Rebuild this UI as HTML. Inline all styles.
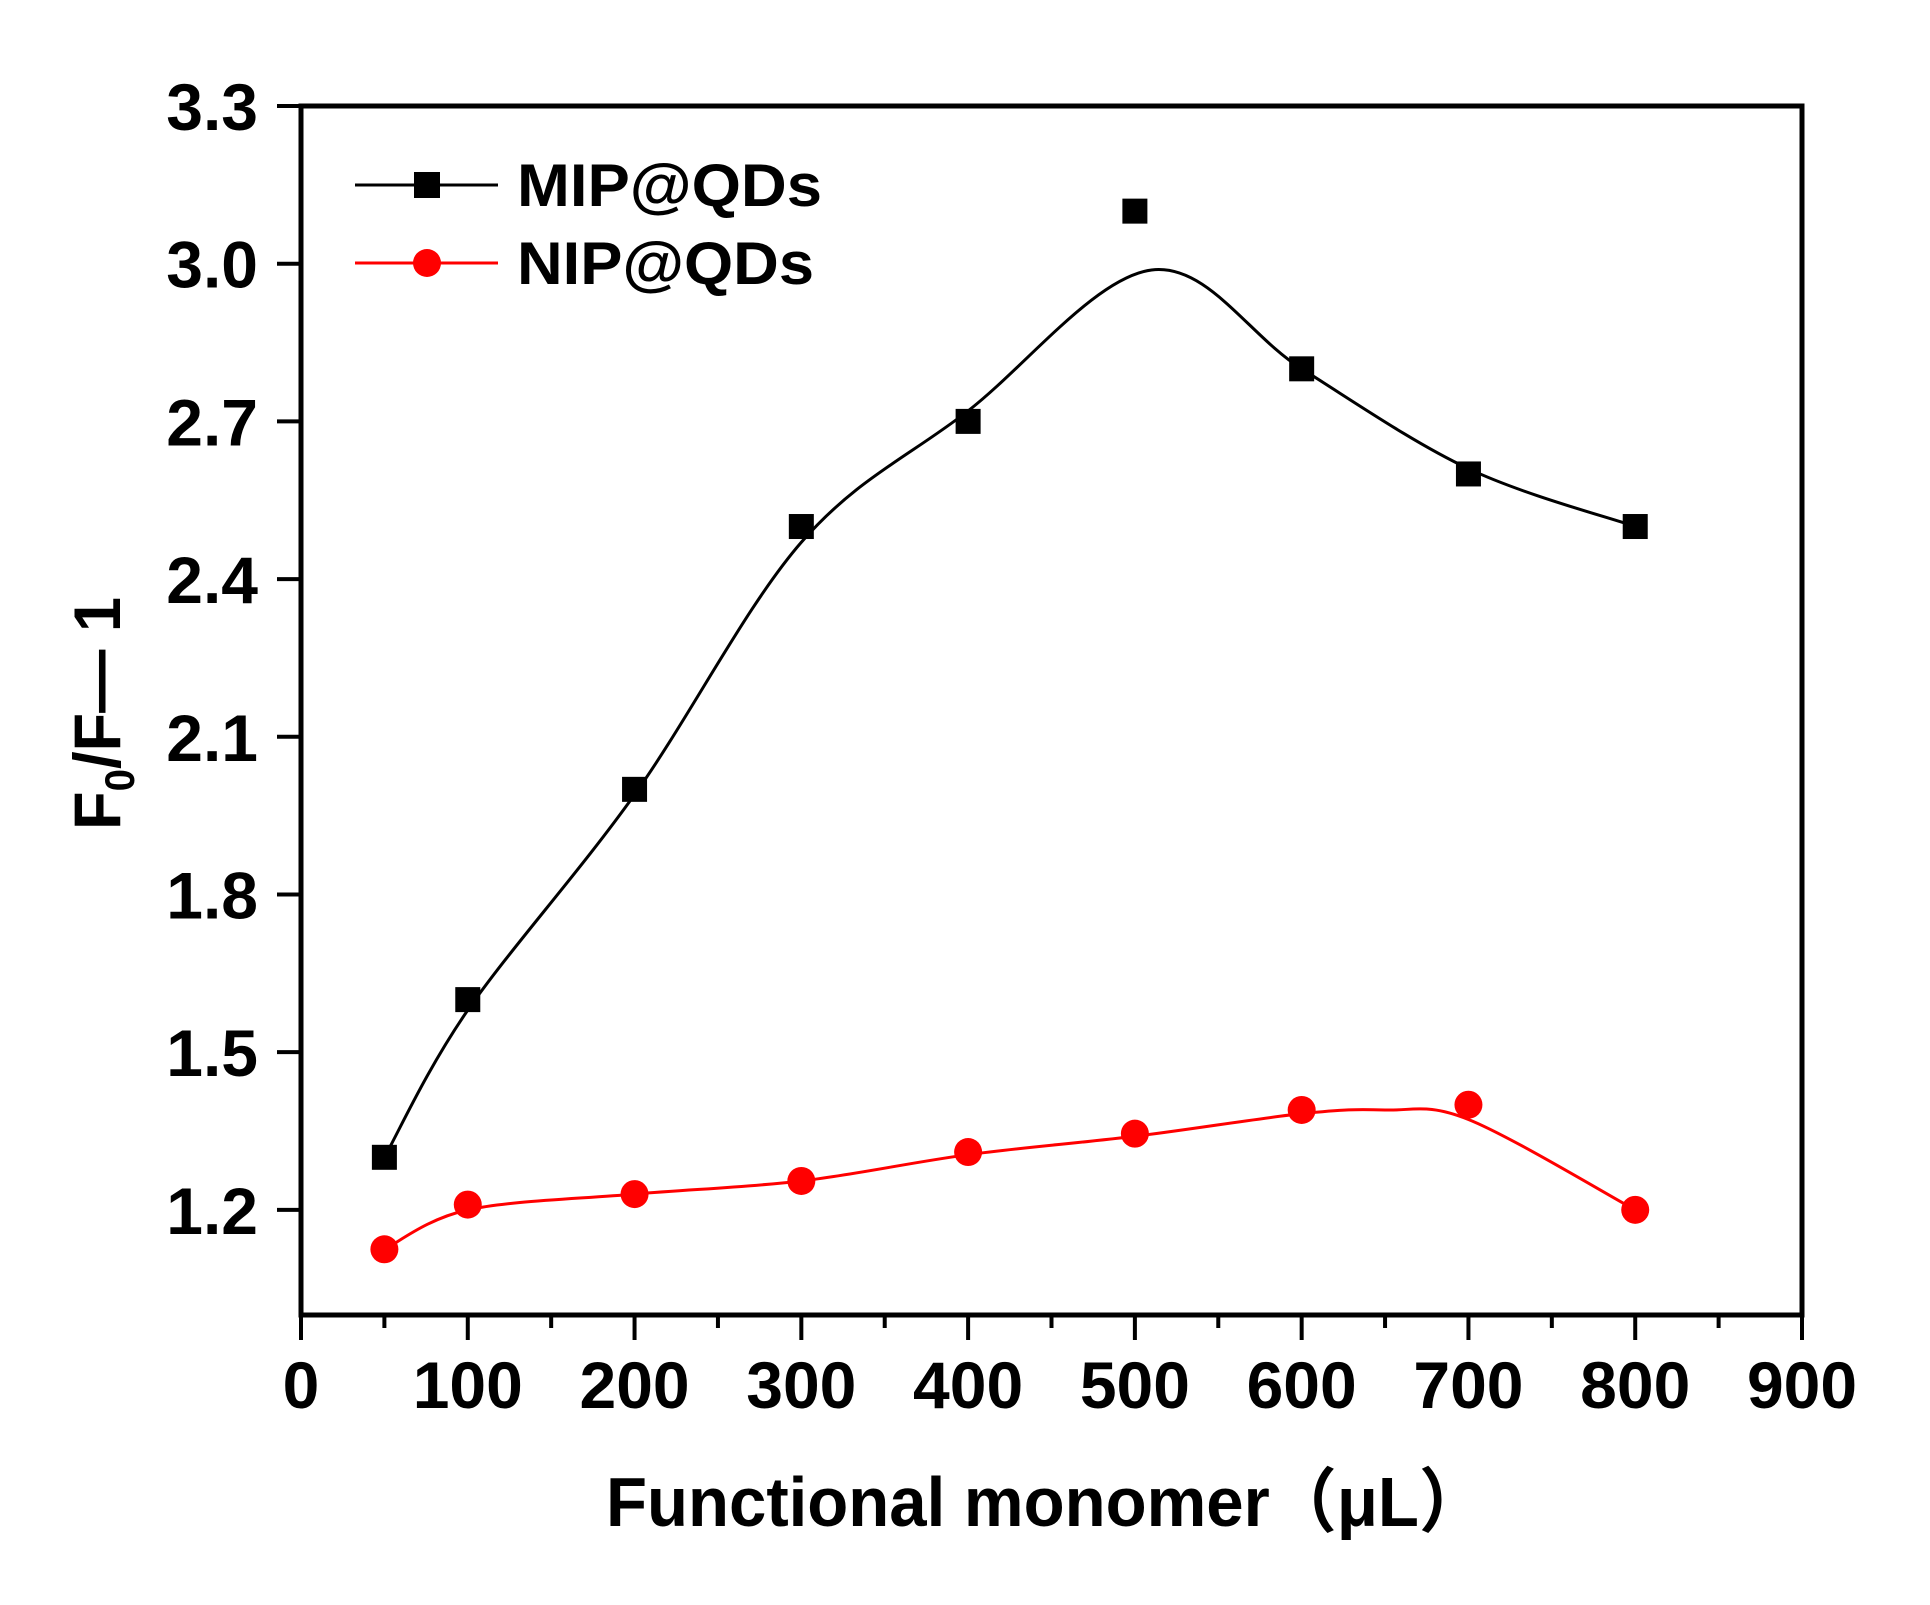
<!DOCTYPE html>
<html><head><meta charset="utf-8"><style>
html,body{margin:0;padding:0;background:#fff;}
svg{display:block;}
text{font-family:"Liberation Sans",Arial,sans-serif;font-weight:bold;fill:#000;}
</style></head><body>
<svg id="chart" width="1930" height="1605" xmlns="http://www.w3.org/2000/svg">
<g id="plot"></g>
</svg>
<script>
const xCategories = [50,100,200,300,400,500,600,700,800];
const mipValues = [1.30,1.60,2.00,2.50,2.70,3.10,2.80,2.60,2.50];
const nipValues = [1.125,1.21,1.23,1.255,1.31,1.345,1.39,1.40,1.20];
const mipFitX = [50,100,200,300,400,510,600,700,800];
const mipFitY = [1.30,1.58,1.99,2.47,2.72,2.988,2.80,2.61,2.50];
const nipFitX = [50,100,200,300,400,500,600,650,700,800];
const nipFitY = [1.125,1.20,1.23,1.255,1.305,1.34,1.383,1.39,1.372,1.20];
const xTicks = [0,100,200,300,400,500,600,700,800,900];
const yTicks = [1.2,1.5,1.8,2.1,2.4,2.7,3.0,3.3];
const legendLabels = ["MIP@QDs","NIP@QDs"];

const L=301,R=1802,T=106,B=1315;
const xMin=0,xMax=900,yMin=1.0,yMax=3.3;
const sx=v=>L+(v-xMin)/(xMax-xMin)*(R-L);
const sy=v=>B-(v-yMin)/(yMax-yMin)*(B-T);
const NS="http://www.w3.org/2000/svg";
const g=document.getElementById('plot');
function mk(tag,attrs,parent){const e=document.createElementNS(NS,tag);for(const k in attrs)e.setAttribute(k,attrs[k]);(parent||g).appendChild(e);return e;}

function smooth(xs,ys){
  const p=xs.map((x,i)=>[sx(x),sy(ys[i])]);
  let d=`M${p[0][0]},${p[0][1]}`;
  for(let i=0;i<p.length-1;i++){
    const p0=p[i-1]||p[i],p1=p[i],p2=p[i+1],p3=p[i+2]||p[i+1];
    const c1=[p1[0]+(p2[0]-p0[0])/6,p1[1]+(p2[1]-p0[1])/6];
    const c2=[p2[0]-(p3[0]-p1[0])/6,p2[1]-(p3[1]-p1[1])/6];
    d+=` C${c1[0]},${c1[1]} ${c2[0]},${c2[1]} ${p2[0]},${p2[1]}`;
  }
  return d;
}

let fr=mk('rect',{x:L,y:T,width:R-L,height:B-T,fill:'none',stroke:'#000','stroke-width':5});



xTicks.forEach(v=>{
  const t=mk('line',{x1:sx(v),x2:sx(v),y1:B,y2:B+25,stroke:'#000','stroke-width':4});
  
  
  const lb=mk('text',{x:sx(v),y:1408,'font-size':66,'text-anchor':'middle'});
  lb.textContent=v;
  
  
  if(v<900){
    const m=mk('line',{x1:sx(v+50),x2:sx(v+50),y1:B,y2:B+13,stroke:'#000','stroke-width':4});
    
    
  }
});
yTicks.forEach(v=>{
  const t=mk('line',{x1:L-24,x2:L,y1:sy(v),y2:sy(v),stroke:'#000','stroke-width':4});
  
  
  const lb=mk('text',{x:258,y:sy(v)+24,'font-size':66,'text-anchor':'end'});
  lb.textContent=v.toFixed(1);
  
  
});

let c1=mk('path',{d:smooth(mipFitX,mipFitY),fill:'none',stroke:'#000','stroke-width':3});


let c2=mk('path',{d:smooth(nipFitX,nipFitY),fill:'none',stroke:'#f00','stroke-width':3});



xCategories.forEach((x,i)=>{
  const s=mk('rect',{x:sx(x)-12.5,y:sy(mipValues[i])-12.5,width:25,height:25,fill:'#000'});
  
  
  const c=mk('circle',{cx:sx(x),cy:sy(nipValues[i]),r:14,fill:'#f00'});
  
  
});

const lg=mk('g',{});


[[185,'#000','sq',305],[263,'#f00','ci',297]].forEach((e,i)=>{
  const ln=mk('line',{x1:355,x2:498,y1:e[0],y2:e[0],stroke:e[1],'stroke-width':3},lg);
  
  
  let m;
  if(e[2]==='sq') m=mk('rect',{x:414,y:e[0]-13,width:26,height:26,fill:'#000'},lg);
  else m=mk('circle',{cx:427,cy:e[0],r:14,fill:'#f00'},lg);
  
  
  const t=mk('text',{x:517,y:e[0]+21,'font-size':60,textLength:e[3],lengthAdjust:'spacingAndGlyphs'},lg);
  t.textContent=legendLabels[i];
  
  
});
</script>
<svg style="position:absolute;left:0;top:0" width="1930" height="1605" xmlns="http://www.w3.org/2000/svg">
<text x="606" y="1526" font-size="70" textLength="880" lengthAdjust="spacingAndGlyphs" style="font-family:'Liberation Sans','Noto Sans CJK SC',sans-serif;font-weight:bold">Functional monomer（μL）</text>
<text transform="translate(120,830) rotate(-90)" font-size="66" textLength="233" lengthAdjust="spacingAndGlyphs" style="font-family:'Liberation Sans',sans-serif;font-weight:bold">F<tspan font-size="42" dy="14">0</tspan><tspan dy="-14">/F— 1</tspan></text>
</svg>
</body></html>
